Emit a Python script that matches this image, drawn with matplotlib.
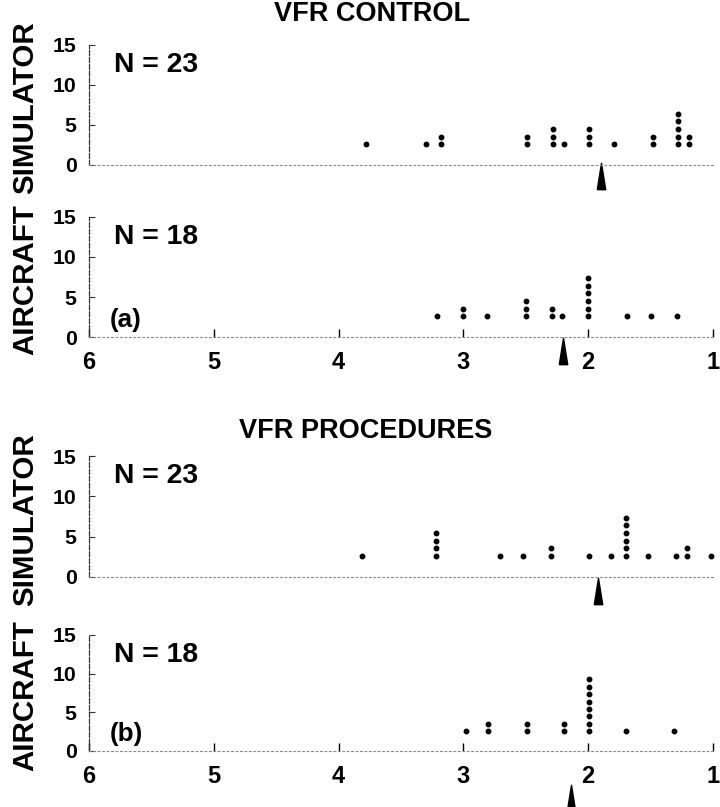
import matplotlib
matplotlib.use("Agg")
import matplotlib.pyplot as plt
from matplotlib import font_manager
import numpy as np

# ---------------- data ----------------
x_ticks = [6, 5, 4, 3, 2, 1]
y_ticks = [0, 5, 10, 15]

sim_control_ratings = [3.78, 3.30, 3.18, 2.49, 2.28, 2.19, 1.99, 1.79, 1.48, 1.28, 1.19]
sim_control_counts = [1, 1, 2, 2, 3, 1, 3, 1, 2, 5, 2]
sim_control_mean = 1.90

air_control_ratings = [3.21, 3.00, 2.81, 2.50, 2.29, 2.21, 2.00, 1.69, 1.50, 1.29]
air_control_counts = [1, 2, 1, 3, 2, 1, 6, 1, 1, 1]
air_control_mean = 2.20

sim_proc_ratings = [3.81, 3.22, 2.71, 2.52, 2.30, 1.99, 1.82, 1.70, 1.52, 1.30, 1.21, 1.02]
sim_proc_counts = [1, 4, 1, 1, 2, 1, 1, 6, 1, 1, 2, 1]
sim_proc_mean = 1.92

air_proc_ratings = [2.98, 2.80, 2.49, 2.19, 1.99, 1.70, 1.31]
air_proc_counts = [1, 2, 2, 2, 8, 1, 1]
air_proc_mean = 2.14

titles = ["VFR CONTROL", "VFR PROCEDURES"]
row_labels = ["SIMULATOR", "AIRCRAFT", "SIMULATOR", "AIRCRAFT"]
n_labels = ["N = 23", "N = 18", "N = 23", "N = 18"]
panel_tags = ["(a)", "(b)"]

# ---------------- font ----------------
names = {f.name for f in font_manager.fontManager.ttflist}
if "Liberation Sans Narrow" in names:
    fam = ["Liberation Sans Narrow", "DejaVu Sans"]
    k = 1.0
else:
    fam = ["Liberation Sans", "DejaVu Sans"]
    k = 0.85
plt.rcParams["font.family"] = fam
plt.rcParams["font.weight"] = "bold"

W, H = 720, 807
fig = plt.figure(figsize=(W / 100, H / 100), dpi=100)

def fx(px):
    return px / W

def fy(py):
    return 1 - py / H

x_left, x_right = 89, 713
# (pixel y of value 0, pixel y of value 15)
panels = [(165, 45), (337, 217), (577, 456), (751, 635)]

datasets = [
    (sim_control_ratings, sim_control_counts, sim_control_mean, False),
    (air_control_ratings, air_control_counts, air_control_mean, True),
    (sim_proc_ratings, sim_proc_counts, sim_proc_mean, False),
    (air_proc_ratings, air_proc_counts, air_proc_mean, True),
]
# vertical position of the mean arrow (pixels below the zero line)
mean_px_below = [11, 14, 14, 47]

tri = [(-0.32, -1.0), (0.32, -1.0), (0.0, 1.0), (-0.32, -1.0)]

base, step = 2.6, 0.95

for i, ((y0, y15), (ratings, counts, mean, xlab)) in enumerate(zip(panels, datasets)):
    ax = fig.add_axes([fx(x_left), fy(y0), fx(x_right - x_left), (y0 - y15) / H])
    ax.set_xlim(6, 1)
    ax.set_ylim(0, 15)
    ax.patch.set_alpha(0)
    for s in ["top", "right"]:
        ax.spines[s].set_visible(False)
    ax.spines["left"].set_linestyle((0, (4, 1.5)))
    ax.spines["left"].set_linewidth(0.9)
    ax.spines["left"].set_color("#333333")
    ax.spines["bottom"].set_linestyle((0, (1.5, 2.5)))
    ax.spines["bottom"].set_linewidth(0.8)
    ax.spines["bottom"].set_color("#888888")

    ax.set_yticks(y_ticks)
    ax.set_yticklabels([str(t) for t in y_ticks], fontsize=18 * k, fontweight="bold")
    ax.tick_params(axis="y", direction="in", length=4, width=0.8, pad=9, color="#333333")
    ax.set_xticks(x_ticks)
    if xlab:
        ax.set_xticklabels([str(t) for t in x_ticks], fontsize=20 * k, fontweight="bold")
        ax.tick_params(axis="x", direction="in", length=6, width=1.0, pad=10)
    else:
        ax.set_xticklabels([])
        ax.tick_params(axis="x", length=0)

    for r, c in zip(ratings, counts):
        ys = base + step * np.arange(c)
        ax.plot([r] * c, ys, "o", color="black", ms=3.2, mec="black", clip_on=False)

    y_arrow = -mean_px_below[i] * 15.0 / (y0 - y15)
    ax.plot([mean], [y_arrow], marker=tri, color="black", ms=19,
            linestyle="none", clip_on=False)

    # row label
    fig.text(fx(25), fy((y0 + y15) / 2 + 3), row_labels[i], rotation=90,
             ha="center", va="center", fontsize=25 * k, fontweight="bold")
    # N label
    fig.text(fx(114), fy(y15 + 20), n_labels[i], ha="left", va="center",
             fontsize=24 * k, fontweight="bold")
    if xlab:
        fig.text(fx(110), fy(y0 - 17), panel_tags[i // 2], ha="left", va="center",
                 fontsize=22 * k, fontweight="bold")

fig.text(fx(372), fy(14), titles[0], ha="center", va="center", fontsize=23 * k, fontweight="bold")
fig.text(fx(366), fy(431), titles[1], ha="center", va="center", fontsize=23 * k, fontweight="bold")

fig.savefig("out.png", dpi=100, facecolor="white")
